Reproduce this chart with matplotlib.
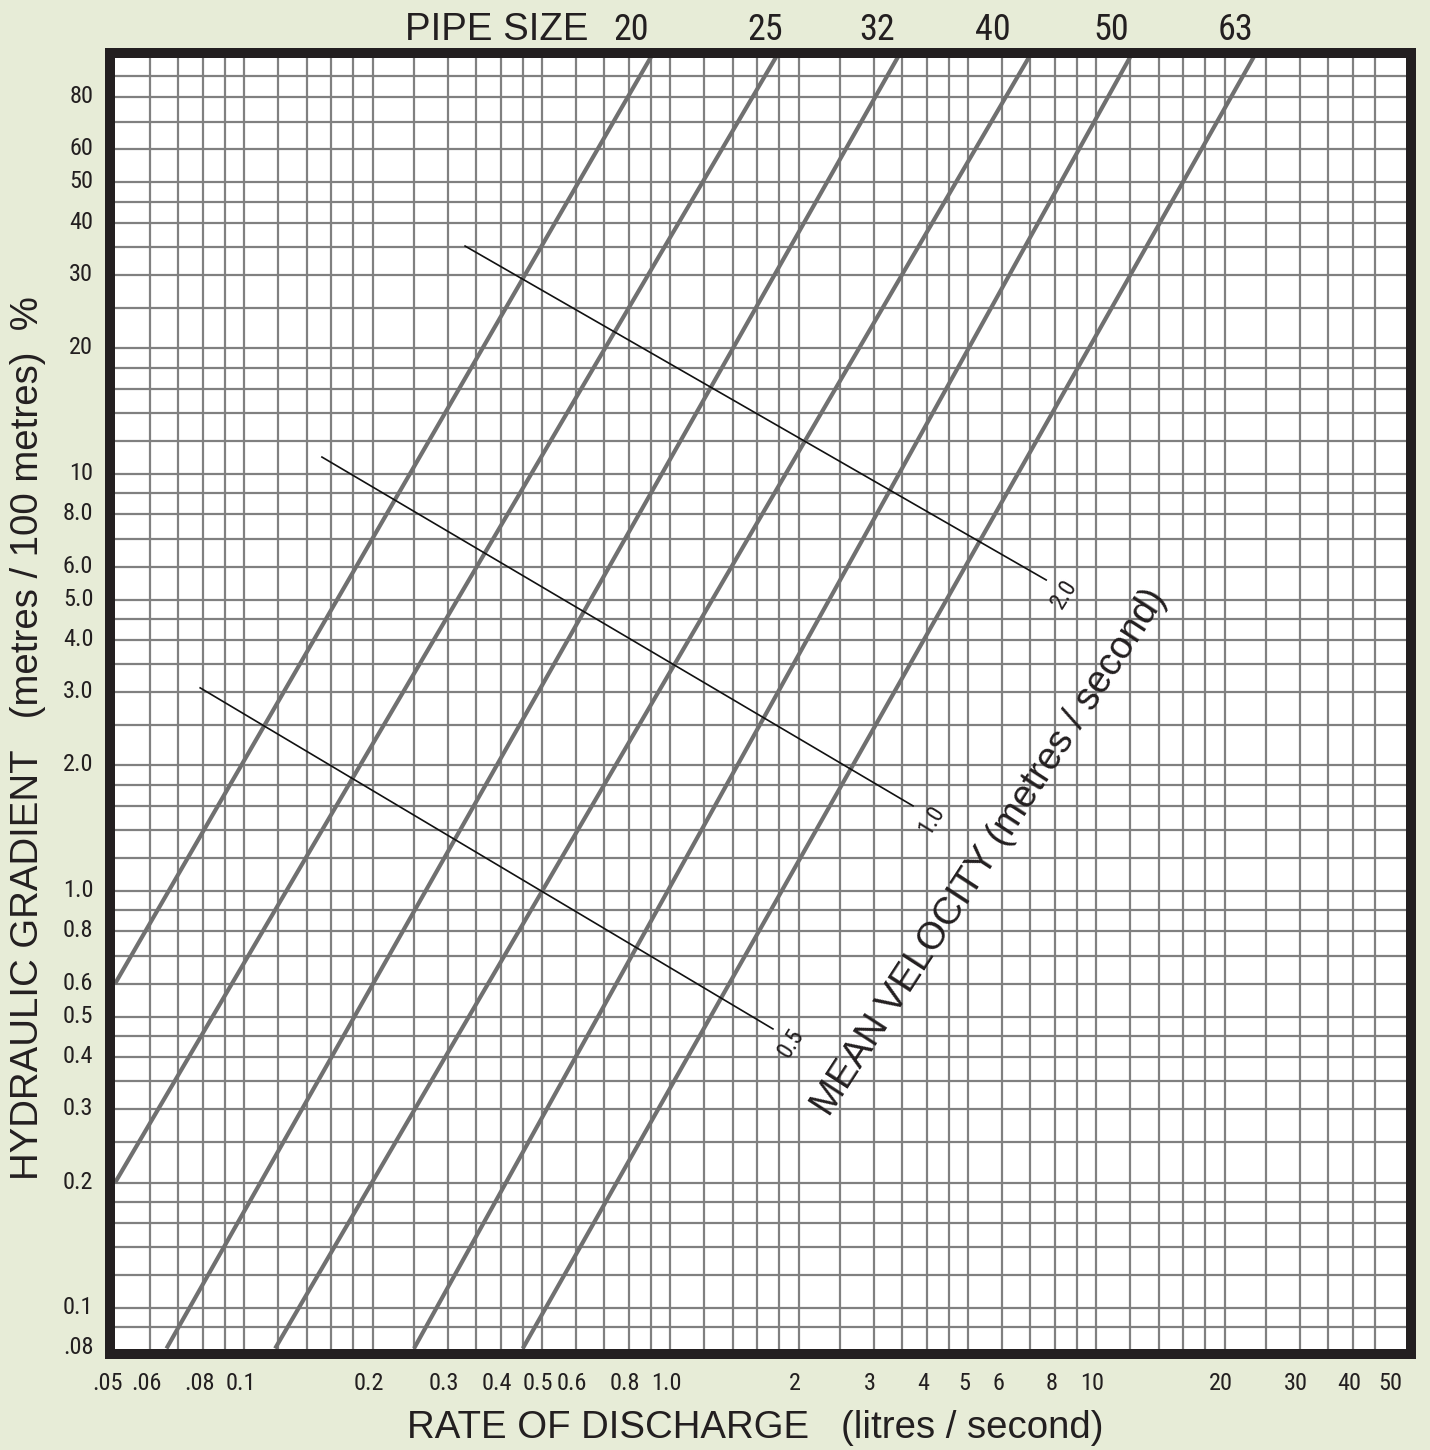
import matplotlib
matplotlib.use("Agg")
import matplotlib.pyplot as plt
from matplotlib import font_manager
from matplotlib.font_manager import FontProperties
from matplotlib.transforms import ScaledTranslation

# ---------------- data ----------------
x_ticks = [0.05, 0.06, 0.08, 0.1, 0.2, 0.3, 0.4, 0.5, 0.6, 0.8, 1.0, 2, 3, 4, 5, 6, 8, 10, 20, 30, 40, 50]
x_tick_labels = [".05", ".06", ".08", "0.1", "0.2", "0.3", "0.4", "0.5", "0.6", "0.8", "1.0",
                 "2", "3", "4", "5", "6", "8", "10", "20", "30", "40", "50"]
y_ticks = [0.08, 0.1, 0.2, 0.3, 0.4, 0.5, 0.6, 0.8, 1.0, 2, 3, 4, 5, 6, 8, 10, 20, 30, 40, 50, 60, 80]
y_tick_labels = [".08", "0.1", "0.2", "0.3", "0.4", "0.5", "0.6", "0.8", "1.0", "2.0", "3.0", "4.0",
                 "5.0", "6.0", "8.0", "10", "20", "30", "40", "50", "60", "80"]

grid_steps = [1, 1.2, 1.4, 1.6, 1.8, 2, 2.5, 3, 3.5, 4, 4.5, 5, 6, 7, 8, 9]
grid_decades = [0.01, 0.1, 1, 10]
x_grid_range = (0.055, 47)
y_grid_range = (0.085, 95)

pipe_sizes = ["20", "25", "32", "40", "50", "63"]
pipe_q_low = [0.0497, 0.0497, 0.0656, 0.118, 0.25, 0.45]
pipe_h_low = [0.6, 0.2, 0.08, 0.08, 0.08, 0.08]
pipe_q_high = [0.90, 1.77, 3.42, 6.95, 12.0, 23.4]
pipe_h_high = [100, 100, 100, 100, 100, 100]

velocity_labels = ["0.5", "1.0", "2.0"]
vel_q_start = [0.0787, 0.152, 0.3295]
vel_h_start = [3.07, 10.98, 35.2]
vel_q_end = [1.74, 3.71, 7.62]
vel_h_end = [0.467, 1.60, 5.57]

# ---------------- layout / style ----------------
W, H = 1430, 1450
BG = "#e7ecd7"
FRAME = "#231f20"
TXT = "#231f20"
GRID = "#808080"
PIPE = "#707070"

names = {f.name for f in font_manager.fontManager.ttflist}
REG = "Liberation Sans" if "Liberation Sans" in names else "DejaVu Sans"


def find_narrow():
    prefs = ["liberationsansnarrow-regular", "robotocondensed-regular", "notosans-condensed.",
             "notosanscondensed-regular", "opensans-condensed", "dejavusanscondensed.",
             "arialn", "notosans-condensed"]
    files = [f.fname for f in font_manager.fontManager.ttflist]
    low = [(p, p.lower().replace(" ", "").split("/")[-1]) for p in files]
    for pref in prefs:
        for p, b in low:
            if b.startswith(pref) or pref in b:
                if "bold" in b or "italic" in b or "light" in b or "medium" in b or "thin" in b:
                    continue
                return p
    for f in font_manager.fontManager.ttflist:
        if f.stretch in ("condensed", "semi-condensed") and f.style == "normal" and f.weight in (400, "normal", "regular"):
            return f.fname
    return None


narrow_path = find_narrow()


def nfp(size):
    if narrow_path:
        return FontProperties(fname=narrow_path, size=size)
    return FontProperties(family=REG, size=size * 0.86)


fig = plt.figure(figsize=(W / 100, H / 100), dpi=100, facecolor=BG)
ax_l, ax_r, ax_t, ax_b = 110, 1410.5, 53, 1354
ax = fig.add_axes([ax_l / W, 1 - ax_b / H, (ax_r - ax_l) / W, (ax_b - ax_t) / H])
ax.set_facecolor("white")
ax.set_xscale("log")
ax.set_yscale("log")
ax.set_xlim(0.04834, 54.6)
ax.set_ylim(0.0776, 102.2)

# grid lines
xg = [s * d for d in grid_decades for s in grid_steps if x_grid_range[0] < s * d < x_grid_range[1]]
yg = [s * d for d in grid_decades + [100] for s in grid_steps if y_grid_range[0] < s * d < y_grid_range[1]]
for v in xg:
    ax.axvline(v, color=GRID, lw=1.6, zorder=1)
for v in yg:
    ax.axhline(v, color=GRID, lw=1.6, zorder=1)

# pipe lines
for ql, hl, qh, hh in zip(pipe_q_low, pipe_h_low, pipe_q_high, pipe_h_high):
    ax.plot([ql, qh], [hl, hh], color=PIPE, lw=3.0, zorder=3, solid_capstyle="butt")

# velocity lines
for lab, q0, h0, q1, h1 in zip(velocity_labels, vel_q_start, vel_h_start, vel_q_end, vel_h_end):
    ax.plot([q0, q1], [h0, h1], color="#111111", lw=1.2, zorder=4)
    ax.annotate(lab, xy=(q1, h1), xytext=(13, -10), textcoords="offset points",
                rotation=58, rotation_mode="anchor", ha="center", va="center",
                fontproperties=nfp(17), color=TXT, zorder=5)

# ticks
ax.set_xticks(x_ticks)
ax.set_xticklabels(x_tick_labels)
ax.set_yticks(y_ticks)
ax.set_yticklabels(y_tick_labels)
ax.minorticks_off()
ax.tick_params(axis="both", length=0, colors=TXT)
ax.tick_params(axis="x", pad=13)
ax.tick_params(axis="y", pad=12)
for i, lbl in enumerate(ax.get_xticklabels()):
    lbl.set_fontproperties(nfp(17.5))
    dx = -9 if i == 0 else -4
    lbl.set_transform(lbl.get_transform() + ScaledTranslation(dx / 100, 0, fig.dpi_scale_trans))
for lbl in ax.get_yticklabels():
    lbl.set_fontproperties(nfp(17.5))
    lbl.set_transform(lbl.get_transform() + ScaledTranslation(0, 3 / 100, fig.dpi_scale_trans))

for sp in ax.spines.values():
    sp.set_linewidth(7.2)
    sp.set_color(FRAME)
    sp.set_capstyle("projecting")
    sp.set_zorder(6)

TITLE = 27.6

# pipe size labels (x positions in pixels of the figure)
pipe_label_px = [631, 765, 877, 993, 1111, 1236]
for lab, px in zip(pipe_sizes, pipe_label_px):
    fig.text(px / W, 1 - 40 / H, lab, ha="center", va="baseline",
             fontproperties=nfp(26), color=TXT)
fig.text(497 / W, 1 - 40 / H, "PIPE SIZE", ha="center", va="baseline", fontsize=TITLE,
         family=REG, color=TXT)

# axis titles
fig.text(755 / W, 1 - 1438 / H, "RATE OF DISCHARGE   (litres / second)", ha="center",
         va="baseline", fontsize=TITLE, family=REG, color=TXT)
fig.text(38 / W, 1 - 738 / H, "HYDRAULIC GRADIENT   (metres / 100 metres)  %", ha="center",
         va="baseline", rotation=90, rotation_mode="anchor", fontsize=TITLE, family=REG,
         color=TXT)

# mean velocity title
fig.text(990 / W, 1 - 852 / H, "MEAN VELOCITY (metres / second)", ha="center", va="center",
         rotation=57, rotation_mode="anchor", fontsize=TITLE, family=REG, color=TXT)

fig.savefig("out.png", dpi=100, facecolor=BG)
